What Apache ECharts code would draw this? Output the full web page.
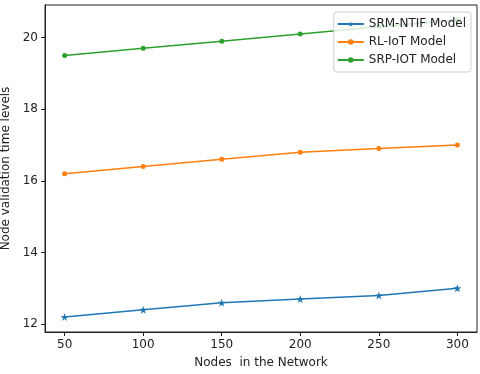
<!DOCTYPE html>
<html>
<head>
<meta charset="utf-8">
<script src="https://cdn.jsdelivr.net/npm/echarts@6/dist/echarts.min.js"></script>
<style>
  html, body { margin: 0; padding: 0; background: #fff; }
  #chart { width: 480px; height: 374px; }
</style>
</head>
<body>
<div id="chart"></div>
<script>
const nodes = [50, 100, 150, 200, 250, 300]
const srmNtif = [12.2, 12.4, 12.6, 12.7, 12.8, 13.0]
const rlIot = [16.2, 16.4, 16.6, 16.8, 16.9, 17.0]
const srpIot = [19.5, 19.7, 19.9, 20.1, 20.3, 20.5]
const yTicks = [12, 14, 16, 18, 20]

const font = 'DejaVu Sans'
const pair = (vals) => nodes.map((n, i) => [n, vals[i]])

const chart = echarts.init(document.getElementById('chart'))

function lineSeries(name, vals, color, symbol, size) {
  return {
    name,
    type: 'line',
    data: pair(vals),
    symbol,
    symbolSize: size,
    showSymbol: true,
    lineStyle: { width: 1.5, color },
    itemStyle: { color, borderWidth: 0 },
    emphasis: { disabled: true },
  }
}

chart.setOption({
  animation: false,
  backgroundColor: '#fff',
  textStyle: { fontFamily: font },
  grid: {
    left: 45, right: 3, top: 5, bottom: 42,
    containLabel: false,
    outerBoundsMode: 'none',
    show: true, borderColor: '#222', borderWidth: 1, backgroundColor: 'transparent',
  },
  legend: {
    orient: 'vertical',
    right: 9,
    top: 12,
    padding: [6, 5, 6, 3],
    itemWidth: 26,
    itemHeight: 7,
    itemGap: 6,
    borderColor: '#d0d0d0',
    borderWidth: 1,
    borderRadius: 3,
    backgroundColor: 'rgba(255,255,255,0.8)',
    textStyle: { fontFamily: font, fontSize: 12, color: '#222' },
    data: ['SRM-NTIF Model', 'RL-IoT Model', 'SRP-IOT Model'],
  },
  xAxis: {
    type: 'value',
    min: 37.5,
    max: 312.5,
    name: 'Nodes  in the Network',
    nameLocation: 'middle',
    nameGap: 25,
    nameTextStyle: { fontFamily: font, fontSize: 12, color: '#222' },
    axisLine: { show: true, onZero: false, lineStyle: { color: '#222', width: 1 } },
    axisTick: { show: true, length: 4, customValues: nodes, lineStyle: { color: '#222' } },
    axisLabel: { customValues: nodes, fontFamily: font, fontSize: 12, color: '#222', margin: 7 },
    splitLine: { show: false },
  },
  yAxis: {
    type: 'value',
    min: 11.78,
    max: 20.91,
    name: 'Node validation time levels',
    nameLocation: 'middle',
    nameGap: 25,
    nameRotate: 90,
    nameTextStyle: { fontFamily: font, fontSize: 12, color: '#222' },
    axisLine: { show: true, onZero: false, lineStyle: { color: '#222', width: 1 } },
    axisTick: { show: true, length: 4, customValues: yTicks, lineStyle: { color: '#222' } },
    axisLabel: { customValues: yTicks, fontFamily: font, fontSize: 12, color: '#222', margin: 7 },
    splitLine: { show: false },
  },
  series: [
    lineSeries('SRM-NTIF Model', srmNtif, '#1f77b4', 'path://M0,-1L0.2245,-0.309L0.951,-0.309L0.363,0.118L0.588,0.809L0,0.382L-0.588,0.809L-0.363,0.118L-0.951,-0.309L-0.2245,-0.309Z', 8),
    lineSeries('RL-IoT Model', rlIot, '#ff7f0e', 'circle', 5),
    lineSeries('SRP-IOT Model', srpIot, '#2ca02c', 'circle', 5),
  ],
})
</script>
</body>
</html>
